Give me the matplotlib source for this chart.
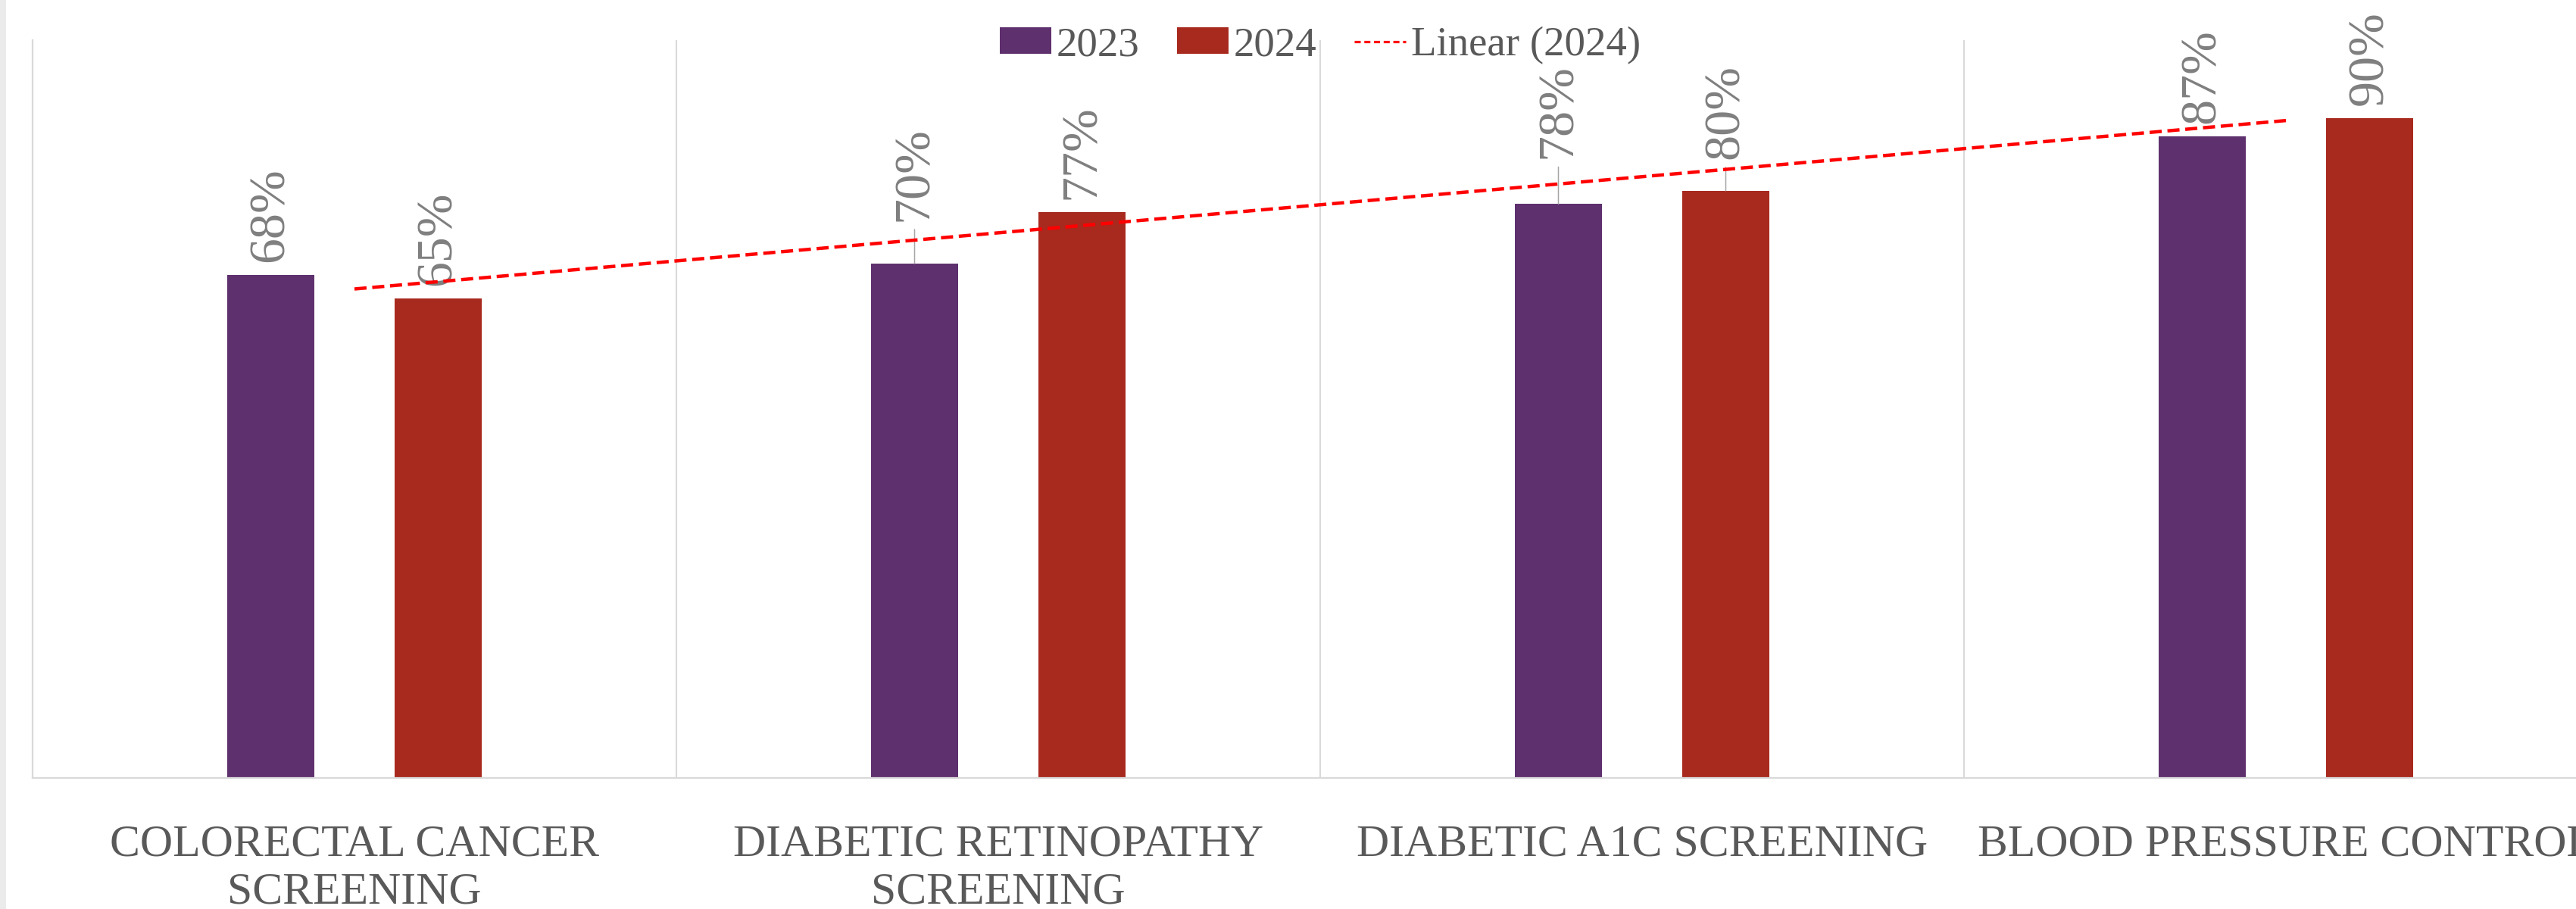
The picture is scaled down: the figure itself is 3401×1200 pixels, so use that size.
import matplotlib
matplotlib.use("Agg")
import matplotlib.pyplot as plt
import numpy as np
from matplotlib.patches import Rectangle, Patch
from matplotlib.lines import Line2D

# ---------------- data ----------------
categories = ["COLORECTAL CANCER\nSCREENING", "DIABETIC RETINOPATHY\nSCREENING",
              "DIABETIC A1C SCREENING", "BLOOD PRESSURE CONTROL"]
values_2023 = [0.684, 0.700, 0.781, 0.873]
values_2024 = [0.653, 0.770, 0.799, 0.898]
series_names = ["2023", "2024"]
trend_label = "Linear (2024)"

# ---------------- layout / style ----------------
label_lift_2023 = [17, 56, 60, 17]   # px between bar top and label
label_lift_2024 = [17, 17, 42, 17]
DEFAULT_LIFT = 17
C2023 = "#5E306E"
C2024 = "#A8291E"
TEXT = "#595959"
LABEL = "#7F7F7F"
GRID = "#D9D9D9"

plt.rcParams["font.family"] = ["Liberation Serif", "DejaVu Serif"]

DPI = 100
W, H = 3401, 1200
fig = plt.figure(figsize=(W / DPI, H / DPI), dpi=DPI)
fig.patch.set_facecolor("white")
fig.add_artist(Rectangle((0, 0), 8 / W, 1, transform=fig.transFigure,
                         facecolor="#EBEBEB", edgecolor="none"))

ax = fig.add_axes([43 / W, 1 - 1027 / H, 3400 / W, 974 / H])
x = np.arange(len(categories))
bw, off = 0.135, 0.13
ax.bar(x - off, values_2023, bw, color=C2023, zorder=2)
ax.bar(x + off, values_2024, bw, color=C2024, zorder=2)

ax.set_xlim(-0.5, len(categories) - 0.5)
ax.set_ylim(0, 1.004)
ax.set_yticks([])
ax.set_xticks(x)
ax.set_xticklabels(categories, fontsize=43, color=TEXT, linespacing=1.22)
ax.tick_params(axis="x", length=0, pad=44)
for s in ["top", "right"]:
    ax.spines[s].set_visible(False)
for s in ["left", "bottom"]:
    ax.spines[s].set_color(GRID)
    ax.spines[s].set_linewidth(1.6)
for xv in x[:-1] + 0.5:
    ax.axvline(xv, color=GRID, lw=1.5, zorder=1)

# linear trendline of 2024 series
coef = np.polyfit(x + 1, values_2024, 1)
tx = np.array([x[0], x[-1]], dtype=float)
ty = np.polyval(coef, tx + 1)
ax.plot(tx, ty, color="#FF0000", lw=3.2, dashes=(3.6, 1.7), zorder=5)

px2pt = 72 / DPI
for xs, vals, lifts in [(x - off, values_2023, label_lift_2023),
                        (x + off, values_2024, label_lift_2024)]:
    for xi, v, lift in zip(xs, vals, lifts):
        ax.annotate(f"{round(v * 100)}%", xy=(xi, v), xytext=(0, lift * px2pt),
                    textcoords="offset points", rotation=90, ha="center",
                    va="bottom", fontsize=49, color=LABEL, zorder=4)
        if lift > DEFAULT_LIFT + 10:
            ax.annotate("", xy=(xi, v), xytext=(0, (lift - 11) * px2pt),
                        textcoords="offset points", zorder=3,
                        arrowprops=dict(arrowstyle="-", color="#A6A6A6", lw=1.1,
                                        shrinkA=0, shrinkB=0))

handles = [Patch(facecolor=C2023, label=series_names[0]),
           Patch(facecolor=C2024, label=series_names[1]),
           Line2D([0], [0], color="#FF0000", lw=2.3, dashes=(2.5, 1.5), label=trend_label)]
fig.legend(handles=handles, loc="center", bbox_to_anchor=(1743 / W, 1 - 60 / H),
           bbox_transform=fig.transFigure, ncol=3, frameon=False, fontsize=39.5,
           labelcolor=TEXT, handlelength=1.24, handleheight=0.6,
           handletextpad=0.13, columnspacing=0.9)

fig.savefig("out.png", dpi=DPI)
